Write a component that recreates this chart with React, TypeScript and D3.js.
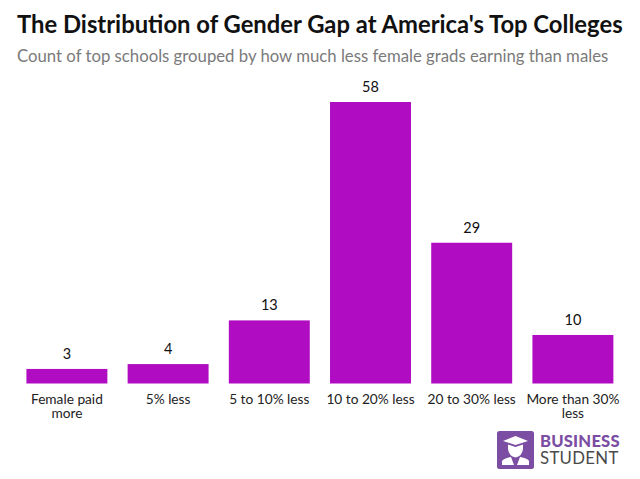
import React from "react";
import * as d3 from "d3";

const categories = ["Female paid more", "5% less", "5 to 10% less", "10 to 20% less", "20 to 30% less", "More than 30% less"];
const categoryLines = [["Female paid", "more"], ["5% less"], ["5 to 10% less"], ["10 to 20% less"], ["20 to 30% less"], ["More than 30%", "less"]];
const counts = [3, 4, 13, 58, 29, 10];

const width = 640;
const height = 479;
const baseline = 383.5;
const font = "Lato, sans-serif";

const x = d3.scaleBand<string>().domain(categories).range([16.3, 623.5]).paddingInner(0.2).paddingOuter(0.1);
const y = d3.scaleLinear().domain([0, 58]).range([baseline, 102]);

const Logo: React.FC = () => (
  <g>
    <rect x={497} y={431} width={37} height={38} rx={2.5} fill="#7b4ea3" />
    <path d="M503 441 L515.5 436 L528 441 L515.5 445 Z" fill="#fff" />
    <path d="M508 444.5 L515.5 447 L523 444.5 L523 449 Q522 456.5 515.5 457.5 Q509 456.5 508 449 Z" fill="#fff" />
    <path d="M502 465 L502 461 Q503 458.5 511 457 L514 465 Z M529 465 L529 461 Q528 458.5 520 457 L517 465 Z" fill="#fff" />
    <text x={540} y={447} fontFamily={font} fontSize={16.6} fontWeight={900} fill="#7b4ea3" letterSpacing={0.2}>BUSINESS</text>
    <text x={540} y={463.5} fontFamily={font} fontSize={16.8} fill="#4a4a4a" letterSpacing={0.3}>STUDENT</text>
  </g>
);

export default function App() {
  return (
    <svg width={width} height={height} style={{ position: "absolute", left: 0, top: 0, background: "#fff" }}>
      <text x={17} y={32.5} fontFamily={font} fontSize={23.8} fontWeight={700} fill="#111">
        The Distribution of Gender Gap at America's Top Colleges
      </text>
      <text x={17} y={61.5} fontFamily={font} fontSize={16.74} fill="#7a7a7a">
        Count of top schools grouped by how much less female grads earning than males
      </text>
      {categories.map((c, i) => {
        const cx = x(c)! + x.bandwidth() / 2;
        return (
          <g key={c}>
            <rect x={x(c)} y={y(counts[i])} width={x.bandwidth()} height={baseline - y(counts[i])} fill="#b00cc1" />
            <text x={cx} y={y(counts[i]) - 10} textAnchor="middle" fontFamily={font} fontSize={14.5} fill="#111">
              {counts[i]}
            </text>
            {categoryLines[i].map((line, j) => (
              <text key={line} x={cx} y={404 + j * 14} textAnchor="middle" fontFamily={font} fontSize={13.7} fill="#222">
                {line}
              </text>
            ))}
          </g>
        );
      })}
      <Logo />
    </svg>
  );
}
